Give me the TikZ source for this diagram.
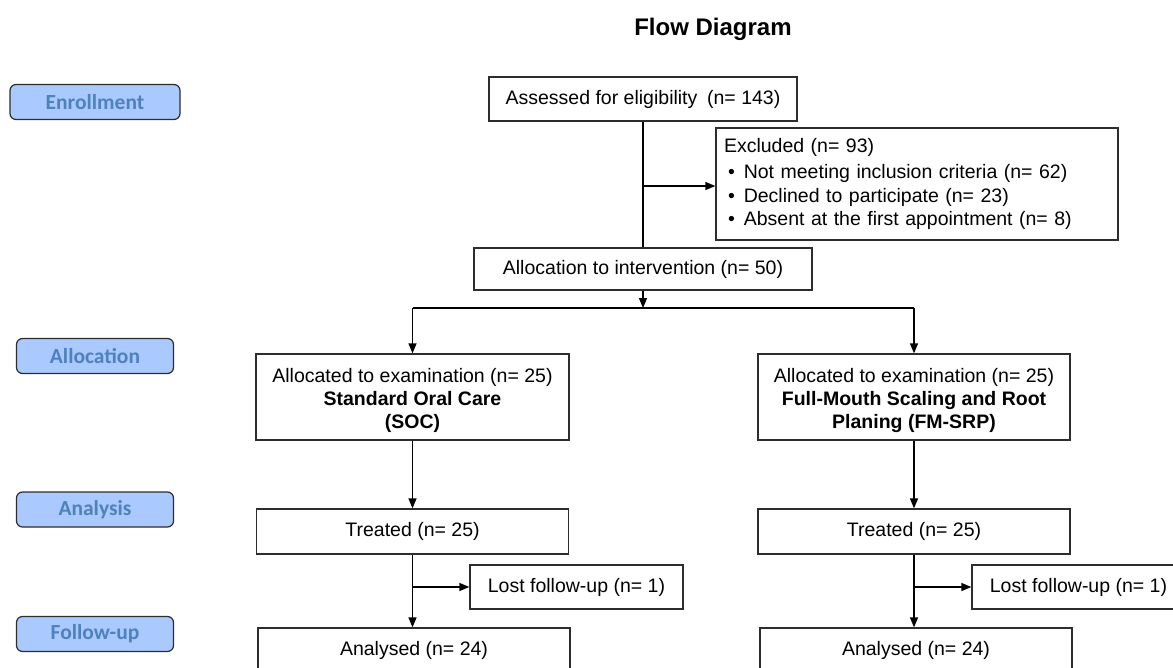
\documentclass[tikz,border=0pt]{standalone}
\usepackage{fontspec}
\setmainfont{Liberation Sans}
\newfontfamily\labfont{Carlito}
\usetikzlibrary{arrows.meta}
\definecolor{labfill}{RGB}{169,201,255}
\definecolor{labtext}{RGB}{79,129,189}
\definecolor{boxline}{RGB}{45,45,45}
\begin{document}
\begin{tikzpicture}[x=1pt,y=-1pt,
  box/.style={draw=boxline, line width=1.3pt, inner sep=0pt, align=center, font=\fontsize{19.5}{23}\selectfont},
  lab/.style={draw=boxline, line width=1.2pt, fill=labfill, rounded corners=6pt, minimum height=35pt, inner sep=0pt, text=labtext, font=\labfont\bfseries\fontsize{21.5}{24}\selectfont},
  arr/.style={line width=1.3pt, -{Triangle[length=10pt,width=8pt]}},
  ln/.style={line width=1.3pt}]
\useasboundingbox (0,0) rectangle (1173,667);
\clip (0,0) rectangle (1173,667);

\node[font=\bfseries\fontsize{24}{28}\selectfont] (title) at (713,29) {Flow Diagram};

\node[lab, minimum width=170pt] (enr) at (95,102) {Enrollment};
\node[lab, minimum width=157pt] (alc) at (95,356) {Allocation};
\node[lab, minimum width=157pt] (ana) at (95,509.5) {Analysis};
\node[lab, minimum width=157pt] (fol) at (95,634) {Follow-up};

\node[box, minimum width=308pt, minimum height=44pt] (assess) at (643,99) {Assessed for eligibility\hspace{0.5em}(n= 143)};
\node[box, minimum width=402pt, minimum height=112pt, text width=386pt, align=left, font=\fontsize{19.5}{23.5}\selectfont] (excl) at (917,184)
  {Excluded (n= 93)\\[3pt]
   \hspace*{4pt}•\hspace{9pt}Not meeting inclusion criteria (n= 62)\\
   \hspace*{4pt}•\hspace{9pt}Declined to participate (n= 23)\\
   \hspace*{4pt}•\hspace{9pt}Absent at the first appointment (n= 8)};
\node[box, minimum width=338pt, minimum height=42pt] (alloc) at (643,269) {Allocation to intervention (n= 50)};

\node[box, minimum width=313pt, minimum height=86pt] (la) at (412.5,397)
  {\rule{0pt}{22pt}Allocated to examination (n= 25)\\\textbf{Standard Oral Care}\\\textbf{(SOC)}};
\node[box, minimum width=312pt, minimum height=86pt] (ra) at (914,397)
  {\rule{0pt}{22pt}Allocated to examination (n= 25)\\\textbf{Full-Mouth Scaling and Root}\\\textbf{Planing (FM-SRP)}};

\node[box, minimum width=312pt, minimum height=45pt] (lt) at (412.5,531.5) {Treated (n= 25)};
\node[box, minimum width=312pt, minimum height=45pt] (rt) at (914,531.5) {Treated (n= 25)};

\node[box, minimum width=213pt, minimum height=44pt] (ll) at (576.5,587) {Lost follow-up (n= 1)};
\node[box, minimum width=213pt, minimum height=44pt] (rl) at (1078.5,587) {Lost follow-up (n= 1)};

\node[box, minimum width=312pt, minimum height=45pt] (lan) at (414,650.5) {Analysed (n= 24)};
\node[box, minimum width=312pt, minimum height=45pt] (ran) at (916,650.5) {Analysed (n= 24)};

\coordinate (j1) at (643,186);
\coordinate (bm) at (643,308);
\coordinate (bl) at (412.5,308);
\coordinate (br) at (914,308);
\coordinate (jl) at (412.5,587);
\coordinate (jr) at (914,587);

\draw[ln] (assess.south) -- (assess.south |- alloc.north);
\draw[arr] (j1) -- (j1 -| excl.west);
\draw[arr] (alloc.south) -- (bm);
\draw[ln] (bl) -- (br);
\draw[arr] (bl) -- (la.north);
\draw[arr] (br) -- (ra.north);
\draw[arr] (la.south) -- (lt.north);
\draw[arr] (ra.south) -- (rt.north);
\draw[arr] (lt.south) -- (lt.south |- lan.north);
\draw[arr] (rt.south) -- (rt.south |- ran.north);
\draw[arr] (jl) -- (jl -| ll.west);
\draw[arr] (jr) -- (jr -| rl.west);
\end{tikzpicture}
\end{document}
